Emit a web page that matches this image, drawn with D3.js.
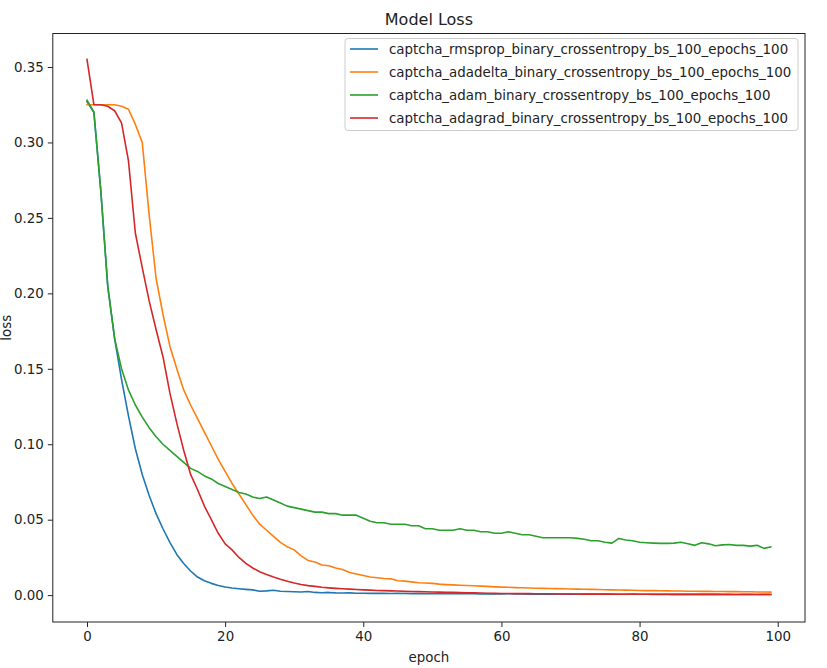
<!DOCTYPE html>
<html>
<head>
<meta charset="utf-8">
<script src="https://cdn.jsdelivr.net/npm/d3@7"></script>
<style>
  html, body { margin: 0; padding: 0; background: #fff; }
  svg { display: block; font-family: "DejaVu Sans", sans-serif; }
</style>
</head>
<body>
<svg id="chart" width="827" height="668"></svg>
<script>
const title = "Model Loss";
const xLabel = "epoch";
const yLabel = "loss";
const xTicks = [0, 20, 40, 60, 80, 100];
const yTicks = [0.00, 0.05, 0.10, 0.15, 0.20, 0.25, 0.30, 0.35];
const seriesNames = [
  "captcha_rmsprop_binary_crossentropy_bs_100_epochs_100",
  "captcha_adadelta_binary_crossentropy_bs_100_epochs_100",
  "captcha_adam_binary_crossentropy_bs_100_epochs_100",
  "captcha_adagrad_binary_crossentropy_bs_100_epochs_100"
];
const seriesColors = ["#1f77b4", "#ff7f0e", "#2ca02c", "#d62728"];

const rmsprop = [
  0.327, 0.320, 0.268, 0.205, 0.170, 0.143, 0.119, 0.097, 0.080, 0.066,
  0.054, 0.044, 0.035, 0.027, 0.021, 0.016, 0.012, 0.0095, 0.0078, 0.0064,
  0.0054, 0.0047, 0.0042, 0.0038, 0.0035, 0.0026, 0.0028, 0.0032, 0.0026, 0.0024,
  0.0022, 0.0021, 0.0024, 0.0018, 0.0016, 0.0018, 0.0015, 0.0014, 0.0015, 0.0013,
  0.0013, 0.0012, 0.0013, 0.0012, 0.0011, 0.0012, 0.0011, 0.0010, 0.0011, 0.0010,
  0.0010, 0.0009, 0.0010, 0.0009, 0.0009, 0.0010, 0.0009, 0.0008, 0.0009, 0.0008,
  0.0008, 0.0009, 0.0008, 0.0008, 0.0007, 0.0008, 0.0007, 0.0008, 0.0007, 0.0007,
  0.0007, 0.0006, 0.0007, 0.0007, 0.0006, 0.0007, 0.0006, 0.0006, 0.0006, 0.0007,
  0.0006, 0.0006, 0.0005, 0.0006, 0.0006, 0.0005, 0.0006, 0.0005, 0.0005, 0.0006,
  0.0005, 0.0005, 0.0005, 0.0005, 0.0004, 0.0005, 0.0005, 0.0004, 0.0005, 0.0004
];
const adadelta = [
  0.325, 0.325, 0.325, 0.325, 0.325, 0.324, 0.322, 0.312, 0.300, 0.252,
  0.210, 0.186, 0.165, 0.150, 0.136, 0.126, 0.117, 0.108, 0.099, 0.090,
  0.082, 0.074, 0.067, 0.060, 0.053, 0.047, 0.043, 0.039, 0.035, 0.032,
  0.030, 0.026, 0.023, 0.022, 0.020, 0.0195, 0.018, 0.017, 0.015, 0.014,
  0.013, 0.012, 0.0115, 0.011, 0.0108, 0.0095, 0.0093, 0.0088, 0.0082, 0.0080,
  0.0078, 0.0073, 0.0070, 0.0068, 0.0066, 0.0064, 0.0062, 0.0060, 0.0058, 0.0055,
  0.0053, 0.0052, 0.0050, 0.0049, 0.0047, 0.0046, 0.0045, 0.0044, 0.0043, 0.0042,
  0.0041, 0.0040, 0.0039, 0.0038, 0.0037, 0.0036, 0.0035, 0.0034, 0.0033, 0.0032,
  0.0031, 0.0030, 0.0030, 0.0029, 0.0028, 0.0027, 0.0027, 0.0026, 0.0026, 0.0025,
  0.0025, 0.0024, 0.0024, 0.0023, 0.0023, 0.0022, 0.0022, 0.0021, 0.0021, 0.0020
];
const adam = [
  0.328, 0.320, 0.268, 0.205, 0.170, 0.150, 0.136, 0.126, 0.118, 0.111,
  0.105, 0.100, 0.096, 0.092, 0.088, 0.084, 0.082, 0.079, 0.077, 0.074,
  0.072, 0.070, 0.068, 0.067, 0.065, 0.064, 0.065, 0.063, 0.061, 0.059,
  0.058, 0.057, 0.056, 0.055, 0.055, 0.054, 0.054, 0.053, 0.053, 0.053,
  0.051, 0.049, 0.048, 0.048, 0.047, 0.047, 0.047, 0.046, 0.046, 0.044,
  0.044, 0.043, 0.043, 0.043, 0.044, 0.043, 0.043, 0.042, 0.042, 0.041,
  0.041, 0.042, 0.041, 0.040, 0.040, 0.039, 0.038, 0.038, 0.038, 0.038,
  0.038, 0.0376, 0.037, 0.036, 0.036, 0.035, 0.0345, 0.0376, 0.0365, 0.036,
  0.035, 0.0347, 0.0345, 0.0343, 0.0343, 0.0345, 0.035, 0.034, 0.033, 0.0347,
  0.034, 0.0327, 0.0333, 0.0336, 0.033, 0.033, 0.0325, 0.033, 0.031, 0.032
];
const adagrad = [
  0.355, 0.325, 0.325, 0.324, 0.321, 0.313, 0.288, 0.240, 0.217, 0.195,
  0.176, 0.158, 0.134, 0.114, 0.096, 0.080, 0.070, 0.059, 0.050, 0.041,
  0.034, 0.030, 0.025, 0.021, 0.018, 0.0155, 0.0137, 0.012, 0.0105, 0.0092,
  0.0080, 0.0070, 0.0063, 0.0058, 0.0052, 0.0048, 0.0045, 0.0042, 0.0040, 0.0037,
  0.0035, 0.0033, 0.0031, 0.0030, 0.0028, 0.0027, 0.0025, 0.0024, 0.0023, 0.0022,
  0.0021, 0.0020, 0.0019, 0.0018, 0.0017, 0.0016, 0.0015, 0.0014, 0.0013, 0.0012,
  0.0011, 0.0011, 0.0010, 0.0010, 0.0010, 0.0009, 0.0009, 0.0009, 0.0008, 0.0008,
  0.0008, 0.0008, 0.0007, 0.0007, 0.0007, 0.0007, 0.0007, 0.0006, 0.0006, 0.0006,
  0.0006, 0.0006, 0.0006, 0.0005, 0.0005, 0.0005, 0.0005, 0.0005, 0.0005, 0.0005,
  0.0005, 0.0005, 0.0004, 0.0004, 0.0004, 0.0004, 0.0004, 0.0004, 0.0004, 0.0004
];
const seriesValues = [rmsprop, adadelta, adam, adagrad];

const svg = d3.select("#chart");
const plot = { left: 52.8, right: 805, top: 33.5, bottom: 622 };

const x = d3.scaleLinear().domain([-4.95, 103.95]).range([plot.left, plot.right]);
const y = d3.scaleLinear().domain([-0.0178, 0.3722]).range([plot.bottom, plot.top]);

// lines
const line = d3.line().x((d, i) => x(i)).y(d => y(d));
const gLines = svg.append("g");
seriesValues.forEach((vals, k) => {
  gLines.append("path")
    .datum(vals)
    .attr("d", line)
    .attr("fill", "none")
    .attr("stroke", seriesColors[k])
    .attr("stroke-width", 1.6)
    .attr("stroke-linejoin", "round")
    .attr("stroke-linecap", "square");
});

// axes
const xAxis = d3.axisBottom(x).tickValues(xTicks).tickSize(5).tickPadding(4).tickFormat(d3.format("d"));
const yAxis = d3.axisLeft(y).tickValues(yTicks).tickSize(5).tickPadding(4).tickFormat(d3.format(".2f"));

const gx = svg.append("g").attr("transform", `translate(0,${plot.bottom})`).call(xAxis);
const gy = svg.append("g").attr("transform", `translate(${plot.left},0)`).call(yAxis);
[gx, gy].forEach(g => {
  g.select(".domain").remove();
  g.selectAll(".tick line").attr("stroke", "#222").attr("stroke-width", 1);
  g.selectAll(".tick text").attr("fill", "#222").style("font-size", "13.4px").style("font-family", "DejaVu Sans");
});

// frame
svg.append("rect")
  .attr("x", plot.left).attr("y", plot.top)
  .attr("width", plot.right - plot.left).attr("height", plot.bottom - plot.top)
  .attr("fill", "none").attr("stroke", "#222").attr("stroke-width", 1);

// title and labels
svg.append("text")
  .attr("x", (plot.left + plot.right) / 2).attr("y", 25)
  .attr("text-anchor", "middle").attr("fill", "#222")
  .style("font-size", "16px").text(title);
svg.append("text")
  .attr("x", (plot.left + plot.right) / 2).attr("y", 662)
  .attr("text-anchor", "middle").attr("fill", "#222")
  .style("font-size", "13.4px").text(xLabel);
svg.append("text")
  .attr("transform", `translate(11,${(plot.top + plot.bottom) / 2}) rotate(-90)`)
  .attr("text-anchor", "middle").attr("fill", "#222")
  .style("font-size", "13.4px").text(yLabel);

// legend
const leg = svg.append("g");
leg.append("rect")
  .attr("x", 345).attr("y", 38.5).attr("width", 453).attr("height", 92)
  .attr("rx", 3).attr("fill", "#fff").attr("fill-opacity", 0.8)
  .attr("stroke", "#ccc").attr("stroke-width", 1);
seriesNames.forEach((name, k) => {
  const yy = 49 + k * 23;
  leg.append("line")
    .attr("x1", 350).attr("x2", 378).attr("y1", yy).attr("y2", yy)
    .attr("stroke", seriesColors[k]).attr("stroke-width", 1.6);
  leg.append("text")
    .attr("x", 389).attr("y", yy).attr("dy", "0.35em")
    .attr("fill", "#222").style("font-size", "13.4px").text(name);
});
</script>
</body>
</html>
